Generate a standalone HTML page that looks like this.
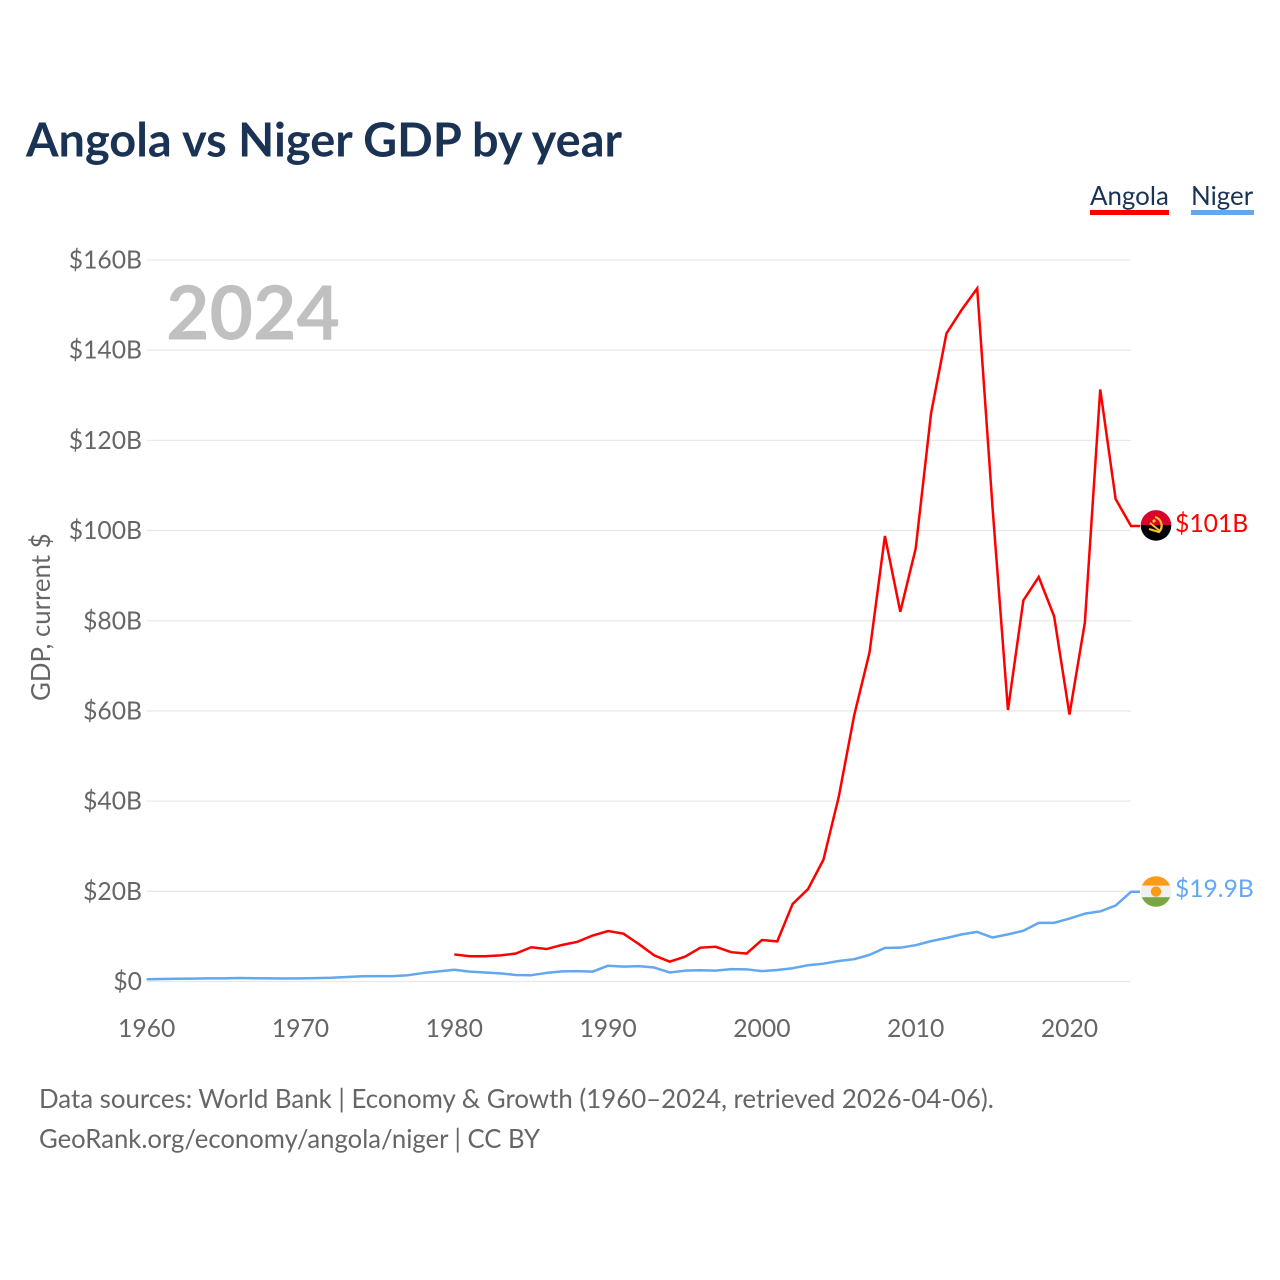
<!DOCTYPE html>
<html lang="en">
<head>
<meta charset="utf-8">
<title>Angola vs Niger GDP by year</title>
<style>
  html,body{margin:0;padding:0;background:#fff;}
  svg{display:block;font-family:Lato,Carlito,"Liberation Sans",sans-serif;}
</style>
</head>
<body>
<svg id="chart" xmlns="http://www.w3.org/2000/svg" width="1280" height="1280" viewBox="0 0 1280 1280">
  <defs>
    <clipPath id="clip-angola"><circle cx="1156" cy="525.4" r="15.3"/></clipPath>
    <clipPath id="clip-niger"><circle cx="1156" cy="891.5" r="15.3"/></clipPath>
  </defs>
  <rect width="1280" height="1280" fill="#fff"/>
  <text x="26" y="156.5" font-size="46.9" font-weight="700" fill="#1a3355">Angola vs Niger GDP by year</text>

  <g id="grid"></g>
  <g id="y-ticks"></g>
  <g id="x-ticks"></g>

  <text x="166" y="339.5" font-size="75" font-weight="700" fill="#c0c0c0">2024</text>
  <text transform="translate(50,701) rotate(-90)" font-size="25.8" fill="#666">GDP, current $</text>

  <g id="series"></g>

  <text x="1090" y="205" font-size="25.9" fill="#1a3355">Angola</text>
  <rect x="1090" y="210" width="79" height="5" fill="#ff0000"/>
  <text x="1191" y="205" font-size="25.9" fill="#1a3355">Niger</text>
  <rect x="1191" y="210" width="63" height="5" fill="#63a7ef"/>

  <g clip-path="url(#clip-angola)">
    <rect x="1140" y="509" width="32" height="16" fill="#d9042b"/>
    <rect x="1140" y="525" width="32" height="17" fill="#000"/>
    <path d="M1155 517 a9 9 0 0 1 4 15 l-10 -3" fill="none" stroke="#f5c32c" stroke-width="2.2"/>
    <path d="M1150 523 l10 8" fill="none" stroke="#f5c32c" stroke-width="2"/>
    <circle cx="1154" cy="521" r="1.6" fill="#f5c32c"/>
  </g>
  <text x="1175" y="532" font-size="24.7" fill="#ff0000">$101B</text>

  <g clip-path="url(#clip-niger)">
    <rect x="1140" y="875" width="32" height="10.7" fill="#ff9a17"/>
    <rect x="1140" y="885.7" width="32" height="11.5" fill="#f0f0f0"/>
    <rect x="1140" y="897.2" width="32" height="11" fill="#78a645"/>
    <circle cx="1156" cy="891.6" r="5.2" fill="#ff9a17"/>
  </g>
  <text x="1175" y="897" font-size="24.6" fill="#63a7ef">$19.9B</text>

  <text x="39" y="1108" font-size="25.83" fill="#666">Data sources: World Bank | Economy &amp; Growth (1960–2024, retrieved 2026-04-06).</text>
  <text x="39" y="1148" font-size="25.83" fill="#666" textLength="501" lengthAdjust="spacingAndGlyphs">GeoRank.org/economy/angola/niger | CC BY</text>
</svg>
<script>
const years = [1960,1961,1962,1963,1964,1965,1966,1967,1968,1969,1970,1971,1972,1973,1974,1975,1976,1977,1978,1979,1980,1981,1982,1983,1984,1985,1986,1987,1988,1989,1990,1991,1992,1993,1994,1995,1996,1997,1998,1999,2000,2001,2002,2003,2004,2005,2006,2007,2008,2009,2010,2011,2012,2013,2014,2015,2016,2017,2018,2019,2020,2021,2022,2023,2024];
const angolaGdp = [null,null,null,null,null,null,null,null,null,null,null,null,null,null,null,null,null,null,null,null,6.0,5.6,5.6,5.8,6.2,7.6,7.2,8.1,8.8,10.2,11.2,10.6,8.3,5.8,4.4,5.5,7.5,7.7,6.5,6.2,9.2,8.9,17.2,20.5,27,41,59,73,98.8,82,96,126,143.7,149,153.7,105,60.2,84.5,89.7,81,59.2,79.6,131.3,107,101];
const nigerGdp = [0.5,0.55,0.6,0.65,0.68,0.7,0.78,0.72,0.7,0.66,0.7,0.76,0.82,1.0,1.15,1.2,1.2,1.4,1.9,2.25,2.6,2.2,2.0,1.8,1.45,1.4,1.9,2.25,2.3,2.2,3.5,3.3,3.4,3.1,2.0,2.4,2.5,2.4,2.75,2.7,2.3,2.55,2.95,3.6,3.95,4.55,4.95,5.9,7.45,7.5,8.05,8.95,9.65,10.45,11,9.75,10.45,11.25,13,13,13.95,15.05,15.55,16.85,19.9];
const yTickValues = [0,20,40,60,80,100,120,140,160];
const yTickLabels = ["$0","$20B","$40B","$60B","$80B","$100B","$120B","$140B","$160B"];
const xTickYears = [1960,1970,1980,1990,2000,2010,2020];

const NS = 'http://www.w3.org/2000/svg';
const xScale = function (year) { return 146.7 + (year - 1960) * (1131 - 146.7) / 64; };
const yScale = function (value) { return 981.5 - value * (981.5 - 260) / 160; };

const gridGroup = document.getElementById('grid');
const yGroup = document.getElementById('y-ticks');
const xGroup = document.getElementById('x-ticks');
const seriesGroup = document.getElementById('series');

yTickValues.forEach(function (value, i) {
  const line = document.createElementNS(NS, 'line');
  
  
  line.setAttribute('x1', 147);
  line.setAttribute('x2', 1131);
  line.setAttribute('y1', yScale(value));
  line.setAttribute('y2', yScale(value));
  line.setAttribute('stroke', '#e9e9e9');
  line.setAttribute('stroke-width', '1.3');
  gridGroup.appendChild(line);

  const label = document.createElementNS(NS, 'text');
  
  
  label.setAttribute('x', 142);
  label.setAttribute('y', yScale(value) + 8.5);
  label.setAttribute('text-anchor', 'end');
  label.setAttribute('font-size', '24.7');
  label.setAttribute('fill', '#666');
  label.textContent = yTickLabels[i];
  yGroup.appendChild(label);
});

xTickYears.forEach(function (year) {
  const label = document.createElementNS(NS, 'text');
  
  
  label.setAttribute('x', xScale(year));
  label.setAttribute('y', 1037);
  label.setAttribute('text-anchor', 'middle');
  label.setAttribute('font-size', '24.7');
  label.setAttribute('fill', '#666');
  label.textContent = String(year);
  xGroup.appendChild(label);
});

function pathFor(values) {
  let d = '';
  let last = null;
  values.forEach(function (value, i) {
    if (value === null) { return; }
    d += (d ? 'L' : 'M') + xScale(years[i]).toFixed(2) + ' ' + yScale(value).toFixed(2);
    last = value;
  });
  d += 'L1140 ' + yScale(last).toFixed(2);
  return d;
}

const nigerLine = document.createElementNS(NS, 'path');


nigerLine.setAttribute('d', pathFor(nigerGdp));
nigerLine.setAttribute('fill', 'none');
nigerLine.setAttribute('stroke', '#63a7ef');
nigerLine.setAttribute('stroke-width', '2.5');
nigerLine.setAttribute('stroke-linejoin', 'round');
seriesGroup.appendChild(nigerLine);

const angolaLine = document.createElementNS(NS, 'path');


angolaLine.setAttribute('d', pathFor(angolaGdp));
angolaLine.setAttribute('fill', 'none');
angolaLine.setAttribute('stroke', '#ff0000');
angolaLine.setAttribute('stroke-width', '2.5');
angolaLine.setAttribute('stroke-linejoin', 'miter');
seriesGroup.appendChild(angolaLine);
</script>
</body>
</html>
